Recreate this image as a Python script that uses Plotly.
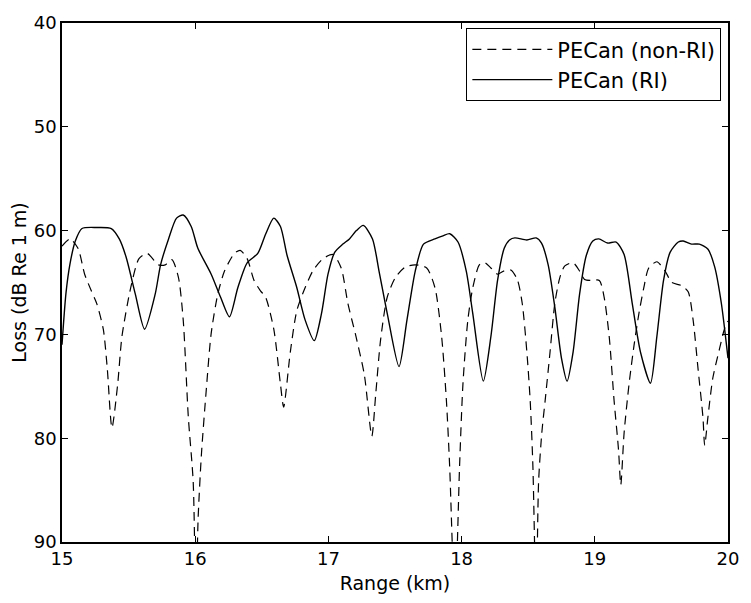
import plotly.graph_objects as go

# Range (km) and loss (dB re 1 m)
range_ri = [15.00, 15.03, 15.06, 15.10, 15.15, 15.26, 15.37, 15.43, 15.48, 15.55,
            15.62, 15.70, 15.74, 15.80, 15.86, 15.91, 15.97, 16.02, 16.12, 16.19,
            16.257, 16.32, 16.39, 16.47, 16.53, 16.59, 16.64, 16.69, 16.763, 16.825,
            16.894, 16.948, 16.997, 17.047, 17.109, 17.158, 17.21, 17.262, 17.331, 17.38,
            17.442, 17.53, 17.59, 17.652, 17.714, 17.80, 17.86, 17.911, 17.973, 18.035,
            18.084, 18.163, 18.22, 18.27, 18.32, 18.36, 18.40, 18.49, 18.56, 18.60,
            18.65, 18.70, 18.75, 18.792, 18.837, 18.886, 18.936, 18.985, 19.03, 19.096,
            19.16, 19.22, 19.281, 19.343, 19.418, 19.466, 19.516, 19.565, 19.627, 19.664,
            19.726, 19.785, 19.85, 19.90, 19.95, 20.00]
loss_ri = [71.0, 66.0, 63.2, 61.0, 59.8, 59.7, 59.8, 60.8, 62.5, 66.1,
           69.5, 66.1, 63.3, 60.8, 58.8, 58.5, 59.6, 61.7, 64.2, 66.4,
           68.3, 65.5, 63.1, 62.2, 60.3, 58.8, 59.6, 62.4, 65.5, 68.6,
           70.6, 68.0, 64.2, 62.1, 61.3, 60.8, 60.0, 59.5, 60.8, 63.9,
           68.0, 73.1, 68.6, 63.9, 61.3, 60.8, 60.5, 60.3, 61.1, 63.9,
           68.0, 74.5, 70.2, 64.8, 61.7, 60.9, 60.7, 60.9, 60.7, 61.2,
           63.3, 67.4, 72.3, 74.5, 71.7, 66.1, 62.4, 61.0, 60.8, 61.2,
           61.1, 62.3, 67.0, 71.7, 74.7, 70.2, 64.8, 62.1, 61.1, 61.0,
           61.3, 61.3, 61.8, 63.5, 67.0, 72.3]

range_nonri = [15.00, 15.06, 15.12, 15.17, 15.22, 15.26, 15.31, 15.34, 15.375, 15.418,
               15.45, 15.516, 15.578, 15.64, 15.70, 15.726, 15.775, 15.825, 15.874, 15.91,
               15.948, 15.985, 16.005, 16.022, 16.047, 16.084, 16.12, 16.17, 16.22, 16.294,
               16.338, 16.39, 16.442, 16.49, 16.528, 16.59, 16.64, 16.664, 16.714, 16.763,
               16.825, 16.887, 16.96, 17.035, 17.096, 17.146, 17.207, 17.27, 17.326, 17.355,
               17.392, 17.442, 17.504, 17.578, 17.652, 17.738, 17.80, 17.85, 17.886, 17.91,
               17.95, 17.985, 18.01, 18.047, 18.084, 18.133, 18.17, 18.22, 18.27, 18.33,
               18.37, 18.418, 18.455, 18.49, 18.515, 18.535, 18.56, 18.578, 18.602, 18.627,
               18.664, 18.70, 18.738, 18.775, 18.837, 18.886, 18.923, 18.973, 19.034, 19.07,
               19.108, 19.145, 19.178, 19.195, 19.22, 19.257, 19.294, 19.331, 19.368, 19.405,
               19.466, 19.528, 19.578, 19.652, 19.701, 19.738, 19.775, 19.812, 19.825, 19.849,
               19.886, 19.936, 19.973, 20.00]
loss_nonri = [61.5, 60.8, 61.7, 64.2, 65.8, 67.0, 69.5, 73.3, 79.0, 74.8,
              70.2, 65.5, 62.7, 62.2, 63.0, 63.3, 63.3, 62.8, 64.5, 68.6,
              77.9, 84.2, 96.0, 87.7, 81.5, 75.2, 69.9, 66.1, 63.9, 62.2,
              61.9, 62.7, 64.8, 65.8, 66.4, 69.5, 74.8, 77.0, 71.7, 67.7,
              65.5, 63.8, 62.7, 62.3, 63.6, 67.0, 70.2, 73.9, 79.8, 75.8,
              70.5, 66.4, 64.5, 63.5, 63.3, 63.6, 65.5, 70.2, 76.4, 82.6,
              96.0, 82.6, 74.8, 68.6, 65.5, 63.3, 63.05, 63.6, 64.2, 63.8,
              63.8, 64.7, 67.0, 71.7, 76.4, 82.6, 96.0, 84.2, 79.5, 76.4,
              71.7, 67.0, 64.5, 63.4, 63.1, 63.9, 64.7, 64.8, 64.8, 66.4,
              70.2, 76.4, 81.1, 84.5, 79.5, 74.8, 71.1, 68.0, 65.5, 63.6,
              63.0, 63.9, 65.0, 65.3, 65.9, 68.6, 73.3, 78.0, 80.7, 78.0,
              74.2, 71.4, 69.5, 68.7]

x_ticks = [15, 16, 17, 18, 19, 20]
y_ticks = [40, 50, 60, 70, 80, 90]
series_names = ["PECan (non-RI)", "PECan (RI)"]

FONT = "DejaVu Sans, Liberation Sans, Arial, sans-serif"

fig = go.Figure()
fig.add_trace(go.Scatter(
    x=range_nonri, y=loss_nonri, mode="lines", name=series_names[0],
    line=dict(color="black", width=1.2, dash="9px,6px", shape="spline", smoothing=0.7),
))
fig.add_trace(go.Scatter(
    x=range_ri, y=loss_ri, mode="lines", name=series_names[1],
    line=dict(color="black", width=1.4, shape="spline", smoothing=0.7),
))

axis_common = dict(
    showline=True, linecolor="black", linewidth=1.5, mirror="ticks",
    ticks="inside", ticklen=6, tickwidth=1, tickcolor="black",
    showgrid=False, zeroline=False,
    tickfont=dict(family=FONT, size=18, color="black"),
)
fig.update_xaxes(range=[15, 20], tickvals=x_ticks, ticktext=[str(v) for v in x_ticks],
                 title=dict(text="Range (km)", font=dict(family=FONT, size=19), standoff=8),
                 **axis_common)
fig.update_yaxes(range=[90, 40], tickvals=y_ticks, ticktext=[str(v) for v in y_ticks],
                 title=dict(text="Loss (dB Re 1 m)", font=dict(family=FONT, size=19), standoff=2),
                 **axis_common)

fig.update_layout(
    width=751, height=603,
    margin=dict(l=62, r=14, t=15, b=55),
    paper_bgcolor="white", plot_bgcolor="white",
    font=dict(family=FONT, size=19, color="black"),
    showlegend=True,
    legend=dict(
        x=0.99, y=0.99, xanchor="right", yanchor="top",
        bgcolor="white", bordercolor="black", borderwidth=1,
        font=dict(family=FONT, size=21), tracegroupgap=0, itemwidth=80,
        traceorder="normal",
    ),
)

fig.write_html("out.html")
